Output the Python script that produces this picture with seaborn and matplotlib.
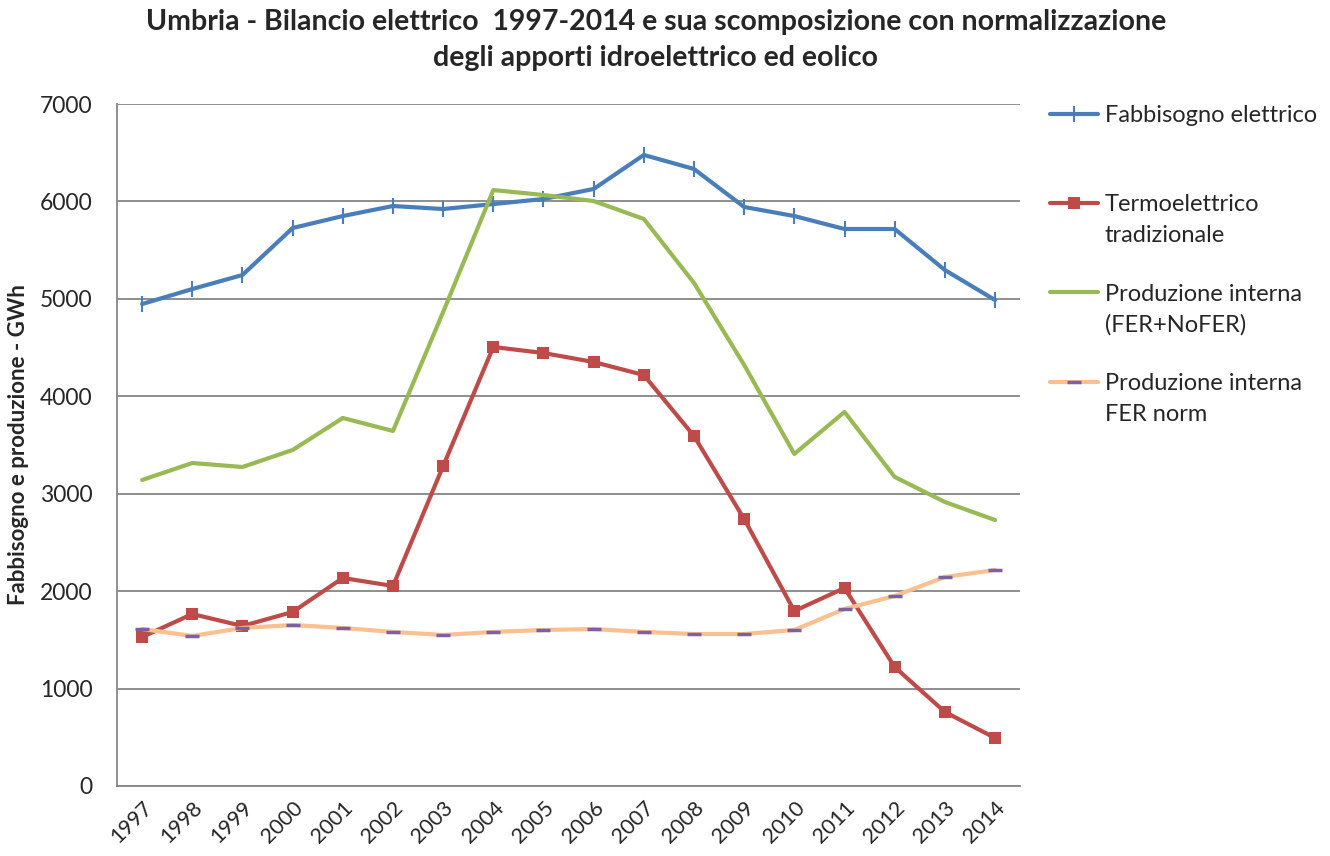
import matplotlib
matplotlib.use("Agg")
import matplotlib.pyplot as plt
import seaborn as sns
import pandas as pd

years = list(range(1997, 2015))
fabbisogno = [4947, 5101, 5245, 5727, 5850, 5953, 5922, 5973, 6025, 6128,
              6477, 6333, 5943, 5850, 5717, 5717, 5296, 4988]
termoelettrico = [1529, 1765, 1642, 1786, 2135, 2053, 3284, 4506, 4444, 4352,
                  4218, 3592, 2740, 1796, 2032, 1221, 760, 493]
produzione = [3141, 3315, 3274, 3449, 3777, 3644, 4865, 6117, 6066, 6004,
              5820, 5163, 4321, 3408, 3839, 3172, 2915, 2730]
fer_norm = [1611, 1540, 1622, 1652, 1622, 1581, 1550, 1581, 1601, 1611,
            1581, 1560, 1560, 1601, 1817, 1950, 2145, 2217]

# legend: first line goes in the legend, second line (if any) is added below
labels = ["Fabbisogno elettrico", "Termoelettrico",
          "Produzione interna", "Produzione interna"]
labels_2nd = ["", "tradizionale", "(FER+NoFER)", "FER norm"]

sns.set_style("white")
plt.rcParams['font.family'] = ['Lato', 'DejaVu Sans']

df = pd.DataFrame({"anno": years, "fab": fabbisogno, "termo": termoelettrico,
                   "prod": produzione, "fer": fer_norm})

fig = plt.figure(figsize=(13.3, 8.56), dpi=100)
ax = fig.add_axes([0.088, 0.0818, 0.679, 0.7967])

sns.lineplot(data=df, x="anno", y="fab", ax=ax, color="#4a7ebb", lw=3,
             marker="|", markersize=11, markeredgewidth=1.5,
             markeredgecolor="#4a7ebb", label=labels[0])
sns.lineplot(data=df, x="anno", y="termo", ax=ax, color="#be4b48", lw=3,
             marker="s", markersize=9, markeredgewidth=0, label=labels[1])
sns.lineplot(data=df, x="anno", y="prod", ax=ax, color="#98b954", lw=3,
             label=labels[2])
sns.lineplot(data=df, x="anno", y="fer", ax=ax, color="#fac090", lw=3,
             marker="_", markersize=10, markeredgewidth=2.5,
             markeredgecolor="#7d60a0", label=labels[3])

ax.set_xlim(1996.5, 2014.5)
ax.set_ylim(0, 7000)
ax.set_yticks(range(0, 7001, 1000))
ax.set_xticks(years)
ax.set_xticklabels([str(y) for y in years], rotation=45, ha="right",
                   rotation_mode="anchor", fontsize=15.5)
ax.tick_params(axis="y", labelsize=16.5, pad=14)
ax.tick_params(axis="x", pad=5)
ax.yaxis.grid(True, color="#868686", lw=1.3)
ax.xaxis.grid(False)
for s in ["top", "right"]:
    ax.spines[s].set_visible(False)
for s in ["left", "bottom"]:
    ax.spines[s].set_color("#868686")
    ax.spines[s].set_linewidth(1.3)

ax.set_xlabel("")
ax.set_ylabel("Fabbisogno e produzione - GWh", fontsize=16, fontweight="bold",
              labelpad=8)

fig.suptitle("Umbria - Bilancio elettrico  1997-2014 e sua scomposizione con normalizzazione\n"
             "degli apporti idroelettrico ed eolico", x=0.493, y=0.99,
             fontsize=20.5, fontweight="bold", linespacing=1.5)

leg = ax.legend(loc="upper left", bbox_to_anchor=(1.01, 1.03), frameon=False,
                fontsize=17, labelspacing=2.9, handlelength=2.0,
                handletextpad=0.3)
for txt, second in zip(leg.get_texts(), labels_2nd):
    if second:
        ax.annotate(second, xy=(0, 0), xycoords=txt, xytext=(0, -22),
                    textcoords="offset points", va="bottom", ha="left",
                    fontsize=17, zorder=10, annotation_clip=False)

fig.savefig("out.png", dpi=100)
